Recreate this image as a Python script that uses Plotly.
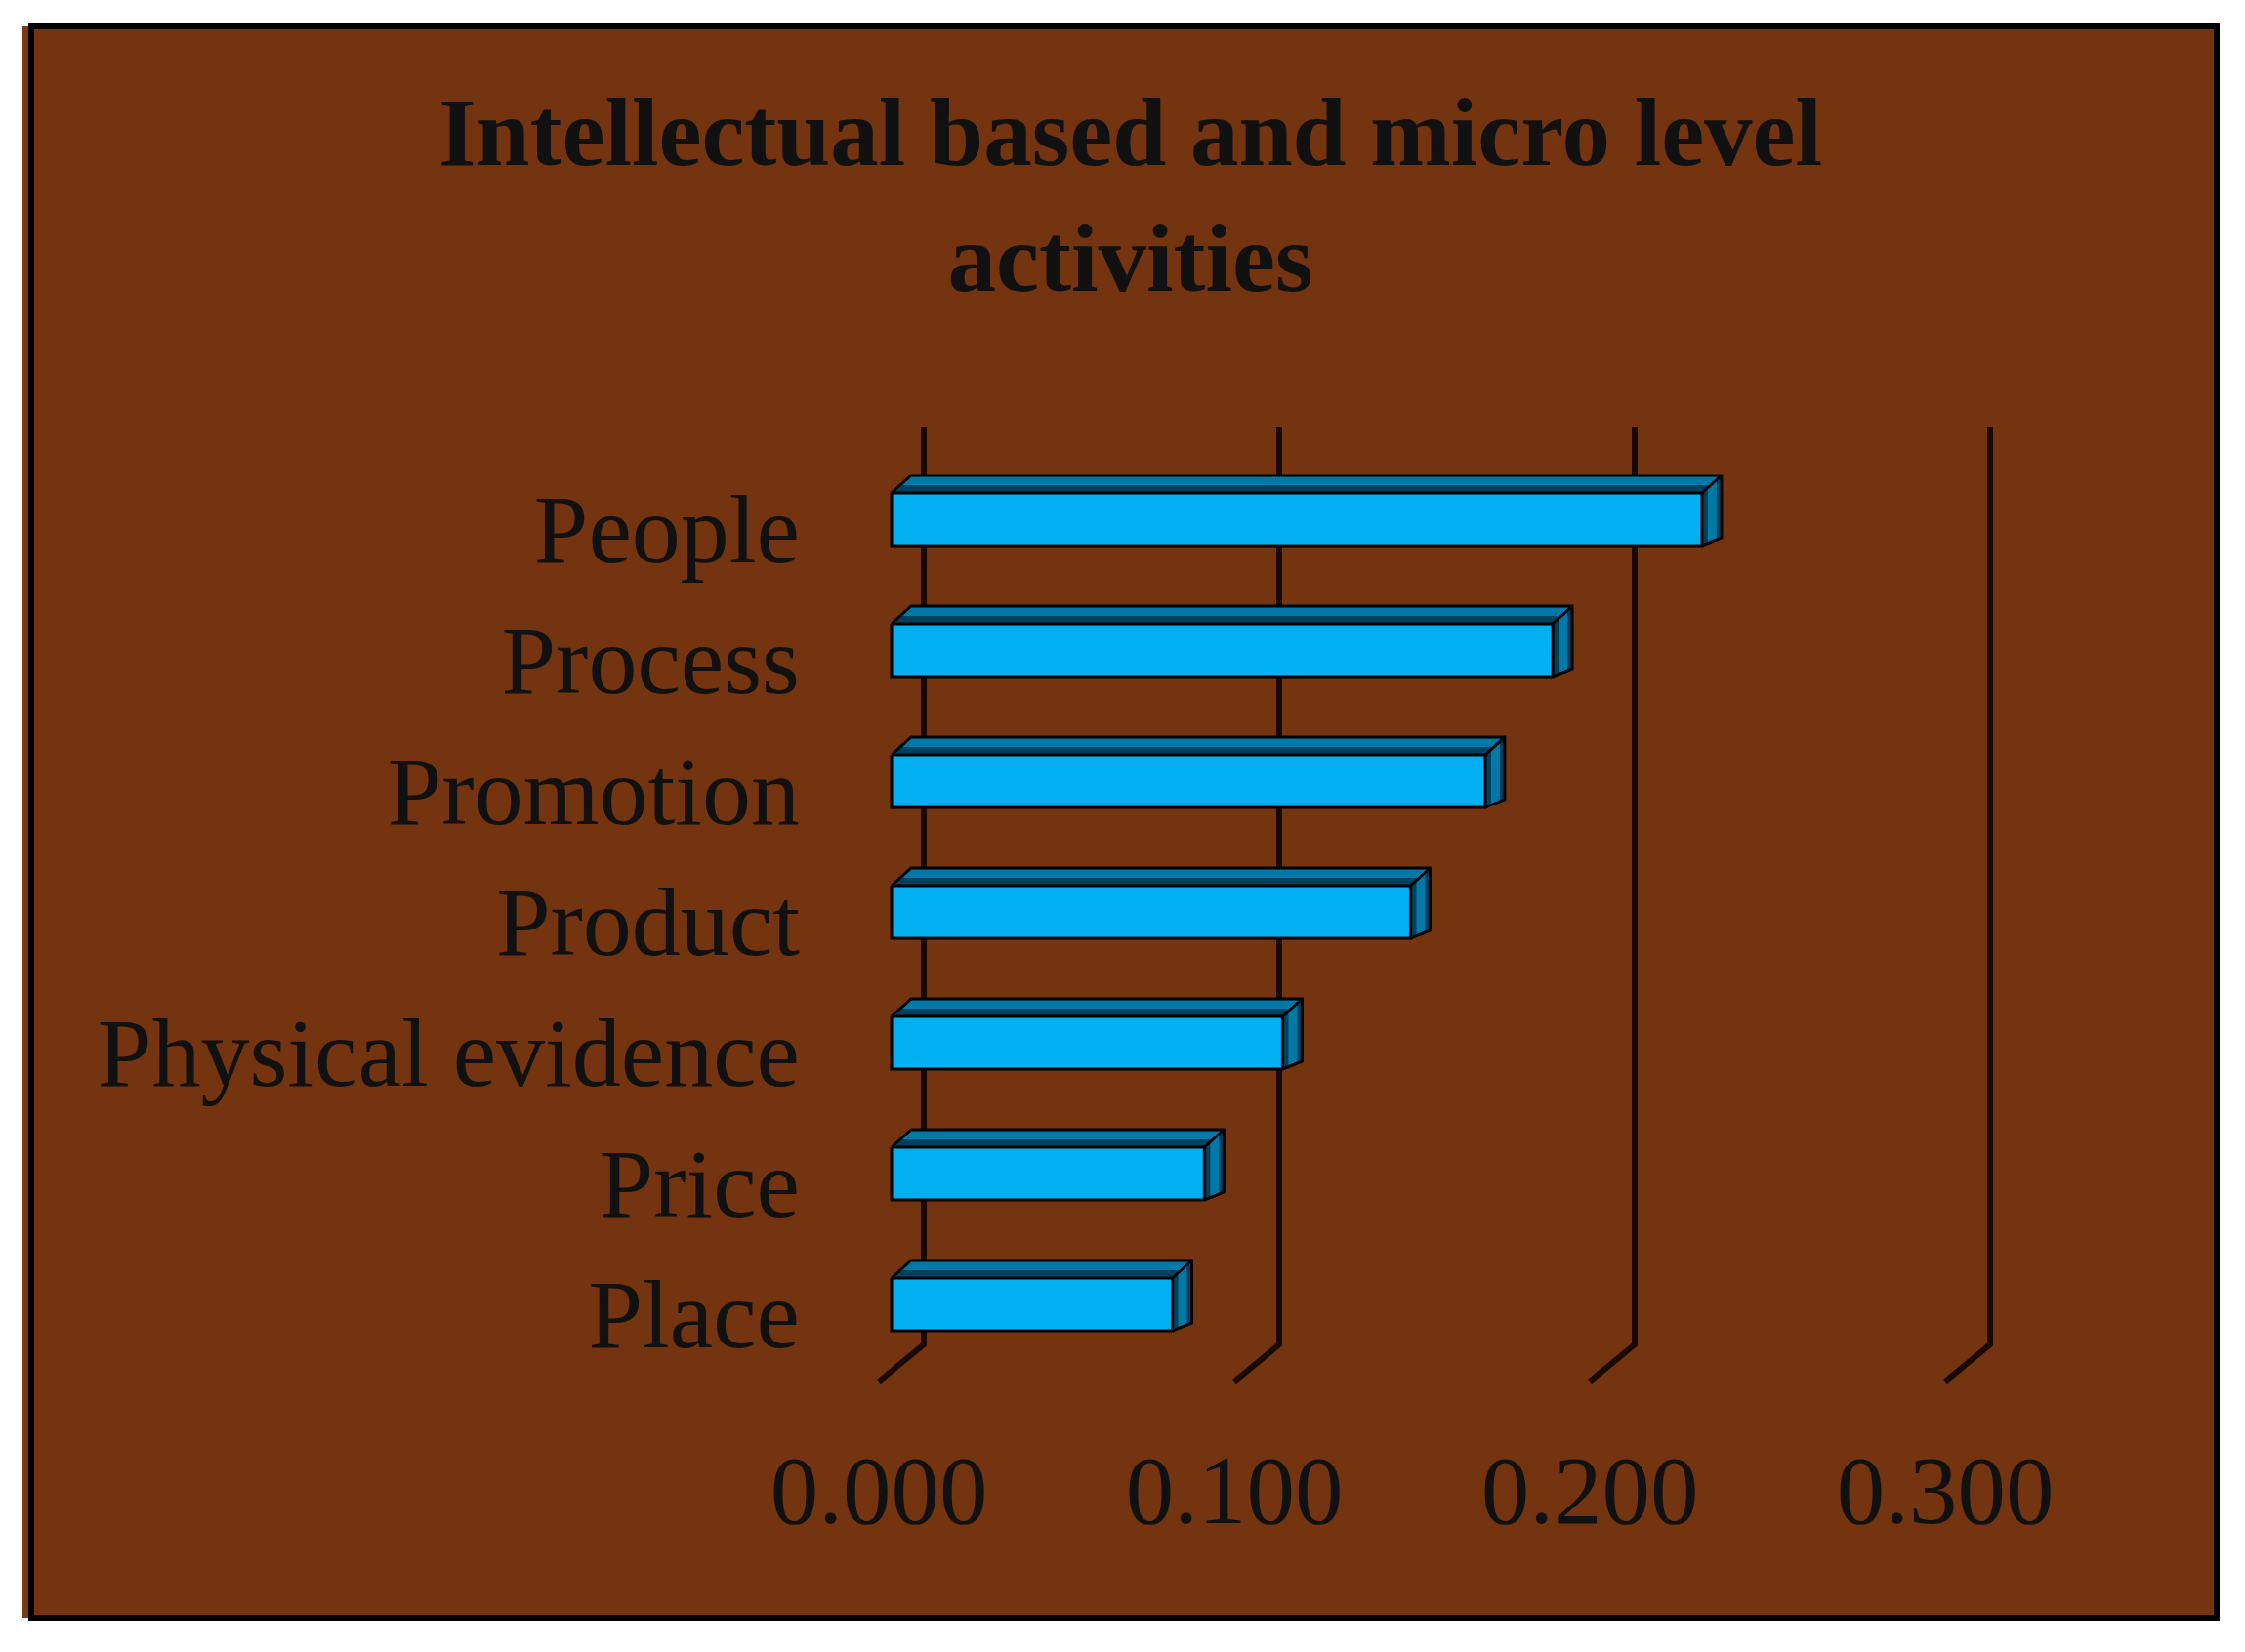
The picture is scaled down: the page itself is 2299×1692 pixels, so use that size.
import plotly.graph_objects as go

# ---------------- data ----------------
categories = ["People", "Process", "Promotion", "Product", "Physical evidence", "Price", "Place"]
values = [0.228, 0.186, 0.167, 0.146, 0.110, 0.088, 0.079]
x_ticks = [0.0, 0.1, 0.2, 0.3]
x_tick_labels = ["0.000", "0.100", "0.200", "0.300"]
title_text = "Intellectual based and micro level<br>activities"

# ---------------- layout geometry (screen pixels) ----------------
OFF = 8                                # default page body margin
W, H = 2299, 1692
L, R, T, B = 820, 2100, 430, 1420      # plot area (screen px)
PXX = 3640.0                           # pixels per value unit
PXY = 134.0                            # pixels per category step
X0PX = 900                             # pixel of value 0 (front plane)
Y0PX = 541                             # pixel of first category tick

xr = [(L - X0PX) / PXX, (R - X0PX) / PXX]
yr = [(B - Y0PX) / PXY, (T - Y0PX) / PXY]   # reversed axis

# 3-D style offsets (in axis units)
BAR_LEFT = 13 / PXX
HALF = 27 / PXY
YOFF = -9 / PXY
DX = 20 / PXX
DY_TOP = -18 / PXY
DY_BOT = -8 / PXY
BACK_DX = 46 / PXX
GRID_TOP = (437 - Y0PX) / PXY
GRID_BOT = (1377 - Y0PX) / PXY
FLOOR_DY = 38 / PXY

BROWN = "#73340F"
FRONT = "#00B0F0"
DARK = "#00425E"
LIGHT = "#0079A8"
SIDE_DARK = "#003F5A"

fig = go.Figure()

# grid (back wall) and floor lines
gx, gy = [], []
for t in x_ticks:
    gx += [t + BACK_DX, t + BACK_DX, t, None]
    gy += [GRID_TOP, GRID_BOT, GRID_BOT + FLOOR_DY, None]
fig.add_trace(go.Scatter(x=gx, y=gy, mode="lines",
                         line=dict(color="#1A0902", width=6),
                         hoverinfo="skip", showlegend=False))

def poly(xs, ys, color):
    fig.add_trace(go.Scatter(x=xs + [xs[0]], y=ys + [ys[0]], mode="lines",
                             fill="toself", fillcolor=color,
                             line=dict(width=0, color=color),
                             hoverinfo="skip", showlegend=False))

for i, (cat, v) in enumerate(zip(categories, values)):
    c = i + YOFF
    yt, yb = c - HALF, c + HALF
    x0, x1 = BAR_LEFT, BAR_LEFT + v
    # top face (dark front half, light back half)
    poly([x0, x1, x1 + DX, x0 + DX], [yt, yt, yt + DY_TOP, yt + DY_TOP], DARK)
    poly([x0 + DX * 0.45, x1 + DX * 0.45, x1 + DX, x0 + DX],
         [yt + DY_TOP * 0.45, yt + DY_TOP * 0.45, yt + DY_TOP, yt + DY_TOP], LIGHT)
    # side face
    poly([x1, x1 + DX, x1 + DX, x1], [yt, yt + DY_TOP, yb + DY_BOT, yb], SIDE_DARK)
    poly([x1 + DX * 0.3, x1 + DX * 0.75, x1 + DX * 0.75, x1 + DX * 0.3],
         [yt + DY_TOP * 0.3, yt + DY_TOP * 0.75, yb + DY_BOT * 0.75, yb + DY_BOT * 0.3], LIGHT)
    # front face
    poly([x0, x1, x1, x0], [yt, yt, yb, yb], FRONT)
    # outlines
    ex = [x0, x1, x1, x0, x0, None,
          x0, x0 + DX, x1 + DX, x1 + DX, x1, None,
          x1, x1 + DX]
    ey = [yt, yt, yb, yb, yt, None,
          yt, yt + DY_TOP, yt + DY_TOP, yb + DY_BOT, yb, None,
          yt, yt + DY_TOP]
    fig.add_trace(go.Scatter(x=ex, y=ey, mode="lines",
                             line=dict(color="#000000", width=3),
                             hoverinfo="skip", showlegend=False, name=cat))

PW, PH = R - L, B - T
def px_x(p):
    return (p - L) / PW
def px_y(p):
    return (B - p) / PH

# thin brown strip at the left of the frame, then the framed panel
fig.add_shape(type="rect", xref="paper", yref="paper",
              x0=px_x(23), x1=px_x(34), y0=px_y(1657), y1=px_y(27),
              fillcolor="#7A3A12", line=dict(width=0), layer="below")
fig.add_shape(type="rect", xref="paper", yref="paper",
              x0=px_x(32), x1=px_x(2270), y0=px_y(1657), y1=px_y(27),
              fillcolor=BROWN, line=dict(color="black", width=6), layer="below")

font_family = "Liberation Serif, Times New Roman, serif"
fig.update_layout(
    width=W, height=H,
    margin=dict(l=L - OFF, r=W - R + OFF, t=T - OFF, b=H - B + OFF, pad=0),
    paper_bgcolor="white",
    plot_bgcolor="rgba(0,0,0,0)",
    showlegend=False,
    title=dict(text=title_text, x=0.5, xref="container", xanchor="center",
               y=1 - 161 / H, yref="container", yanchor="middle",
               font=dict(family=font_family, size=99, color="#111111", weight="bold")),
    xaxis=dict(range=xr, tickvals=x_ticks, ticktext=x_tick_labels,
               showgrid=False, zeroline=False, showline=False,
               ticks="outside", ticklen=20, tickcolor="rgba(0,0,0,0)",
               tickfont=dict(family=font_family, size=99, color="#111111"),
               fixedrange=True),
    yaxis=dict(range=yr, tickvals=list(range(len(categories))), ticktext=categories,
               showgrid=False, zeroline=False, showline=False,
               ticks="",
               tickfont=dict(family=font_family, size=100, color="#111111"),
               fixedrange=True),
)

fig.write_html("out.html")
